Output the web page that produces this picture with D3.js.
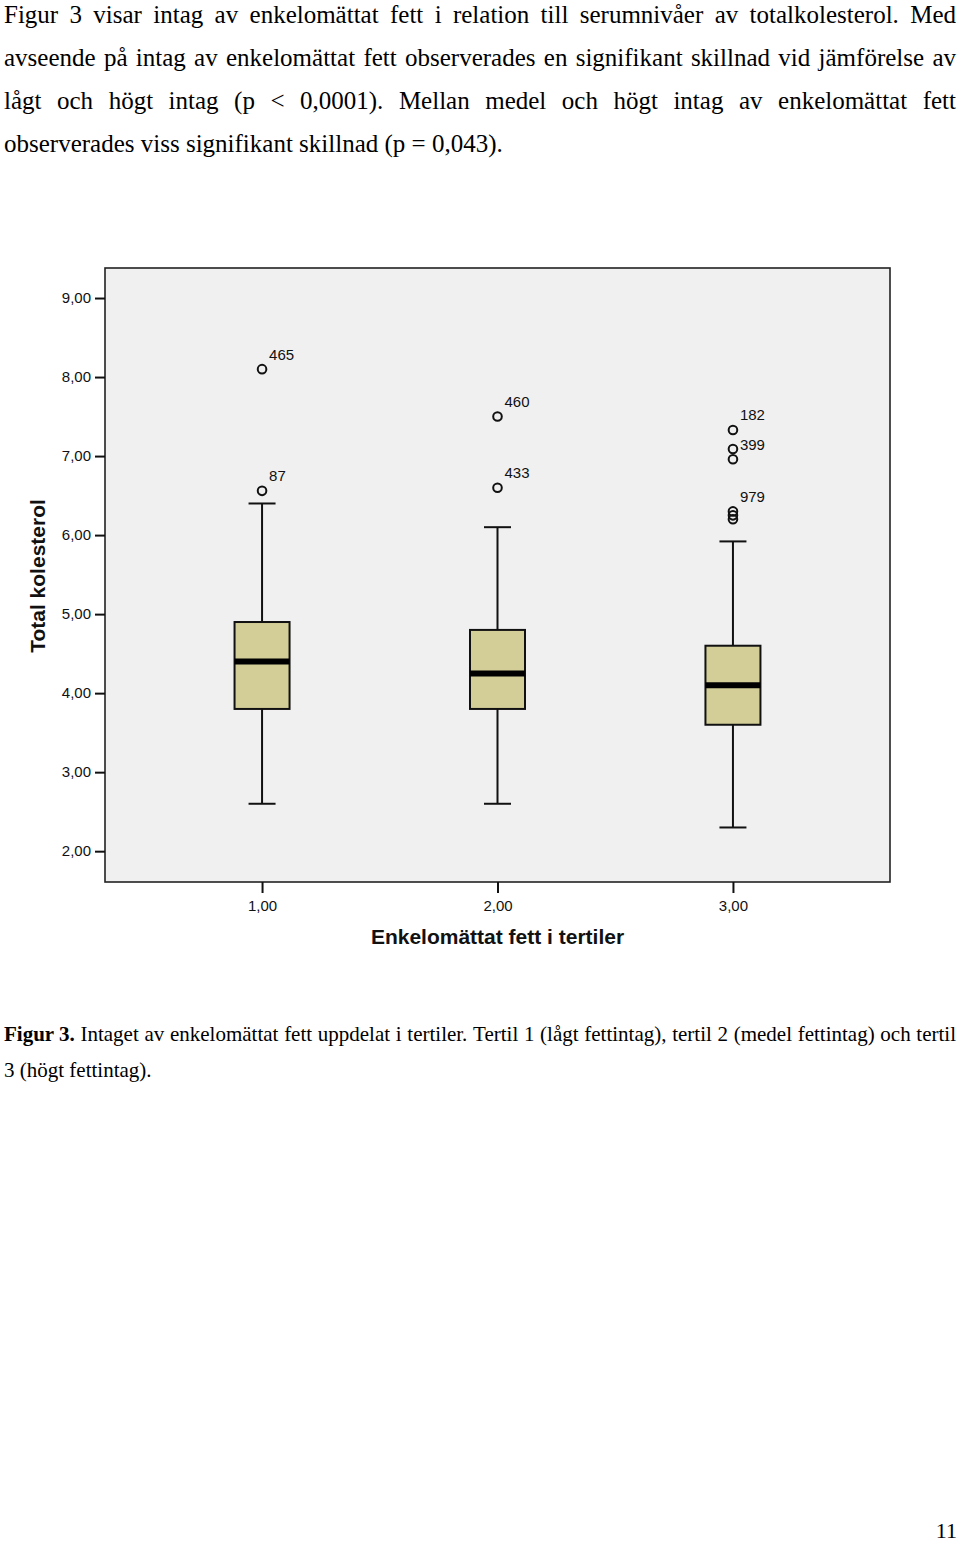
<!DOCTYPE html>
<html>
<head>
<meta charset="utf-8">
<script src="https://cdn.jsdelivr.net/npm/d3@7"></script>
<style>
  html, body { margin: 0; padding: 0; background: #fff; }
  svg { display: block; }
</style>
</head>
<body>
<svg id="page" width="960" height="1543"></svg>
<script>
// ---------- data ----------
const categories = ["1,00", "2,00", "3,00"];
const whiskerLow  = [2.60, 2.60, 2.30];
const q1          = [3.80, 3.80, 3.60];
const median      = [4.40, 4.25, 4.10];
const q3          = [4.90, 4.80, 4.60];
const whiskerHigh = [6.40, 6.10, 5.92];

const outlierGroup = [0, 0, 1, 1, 2, 2, 2, 2, 2, 2];
const outlierValue = [6.56, 8.10, 6.60, 7.50, 7.33, 7.09, 6.96, 6.30, 6.25, 6.20];
const outlierLabel = ["87", "465", "433", "460", "182", "", "399", "979", "", ""];

const yTicks = [2, 3, 4, 5, 6, 7, 8, 9];
const yTitle = "Total kolesterol";
const xTitle = "Enkelomättat fett i tertiler";

const bodyLines = [
  "Figur 3 visar intag av enkelomättat fett i relation till serumnivåer av totalkolesterol. Med",
  "avseende på intag av enkelomättat fett observerades en signifikant skillnad vid jämförelse av",
  "lågt och högt intag (p < 0,0001). Mellan medel och högt intag av enkelomättat fett",
  "observerades viss signifikant skillnad (p = 0,043)."
];
const captionBold = "Figur 3.";
const captionLines = [
  " Intaget av enkelomättat fett uppdelat i tertiler. Tertil 1 (lågt fettintag), tertil 2 (medel fettintag) och tertil",
  "3 (högt fettintag)."
];
const pageNumber = "11";

// ---------- layout ----------
const svg = d3.select("#page");
const frame = { left: 105, top: 268, right: 890, bottom: 882 };
const serif = "'Liberation Serif', 'Times New Roman', serif";
const sans = "'Liberation Sans', Arial, sans-serif";

const x = d3.scalePoint().domain(categories).range([frame.left, frame.right]).padding(0.667);
const y = d3.scaleLinear().domain([1.61, 9.38]).range([frame.bottom, frame.top]);

// justified text helper
function textLine(g, str, x0, baseline, width, size, justify, boldPrefix) {
  if (!justify) {
    const t = g.append("text").attr("y", baseline).attr("x", x0).attr("font-family", serif)
      .attr("font-size", size).attr("fill", "#000");
    if (boldPrefix) t.append("tspan").attr("font-weight", "bold").text(boldPrefix);
    t.append("tspan").text(str);
    return;
  }
  const words = [];
  if (boldPrefix) words.push({ w: boldPrefix, bold: true });
  str.trim().split(/ +/).forEach(w => words.push({ w, bold: false }));
  const nodes = words.map(o => g.append("text").attr("y", baseline).attr("font-family", serif)
    .attr("font-size", size).attr("font-weight", o.bold ? "bold" : "normal").attr("fill", "#000").text(o.w));
  const widths = nodes.map(n => n.node().getComputedTextLength());
  const total = d3.sum(widths);
  const gap = (width - total) / (words.length - 1);
  let cx = x0;
  nodes.forEach((n, i) => { n.attr("x", cx); cx += widths[i] + gap; });
}

const body = svg.append("g");
bodyLines.forEach((l, i) => textLine(body, l, 4, 22.5 + i * 43.3, 952, 25, i < bodyLines.length - 1));

// ---------- chart ----------
const chart = svg.append("g");
chart.append("rect")
  .attr("x", frame.left).attr("y", frame.top)
  .attr("width", frame.right - frame.left).attr("height", frame.bottom - frame.top)
  .attr("fill", "#f0f0f0").attr("stroke", "#222").attr("stroke-width", 1.6);

// y axis
const yAxis = chart.append("g").attr("transform", `translate(${frame.left},0)`)
  .call(d3.axisLeft(y).tickValues(yTicks).tickSize(10).tickPadding(4)
    .tickFormat(d => d3.format(".2f")(d).replace(".", ",")));
yAxis.select(".domain").remove();
yAxis.selectAll("line").attr("stroke", "#111").attr("stroke-width", 2);
yAxis.selectAll("text").attr("font-family", sans).attr("font-size", 15).attr("fill", "#111");

// x axis
const xAxis = chart.append("g").attr("transform", `translate(0,${frame.bottom})`)
  .call(d3.axisBottom(x).tickSize(11).tickPadding(7));
xAxis.select(".domain").remove();
xAxis.selectAll("line").attr("stroke", "#111").attr("stroke-width", 2);
xAxis.selectAll("text").attr("font-family", sans).attr("font-size", 15).attr("fill", "#111");

// titles
chart.append("text").attr("x", (frame.left + frame.right) / 2).attr("y", 944)
  .attr("text-anchor", "middle").attr("font-family", sans).attr("font-weight", "bold")
  .attr("font-size", 21).attr("fill", "#111").text(xTitle);
chart.append("text").attr("transform", `translate(45,${576}) rotate(-90)`)
  .attr("text-anchor", "middle").attr("font-family", sans).attr("font-weight", "bold")
  .attr("font-size", 21).attr("fill", "#111").text(yTitle);

// boxes
const boxW = 55, capW = 27;
categories.forEach((c, i) => {
  const cx = x(c);
  const g = chart.append("g");
  g.append("line").attr("x1", cx).attr("x2", cx).attr("y1", y(q3[i])).attr("y2", y(whiskerHigh[i]))
    .attr("stroke", "#111").attr("stroke-width", 2);
  g.append("line").attr("x1", cx).attr("x2", cx).attr("y1", y(q1[i])).attr("y2", y(whiskerLow[i]))
    .attr("stroke", "#111").attr("stroke-width", 2);
  [whiskerHigh[i], whiskerLow[i]].forEach(v => g.append("line")
    .attr("x1", cx - capW / 2).attr("x2", cx + capW / 2).attr("y1", y(v)).attr("y2", y(v))
    .attr("stroke", "#111").attr("stroke-width", 2));
  g.append("rect").attr("x", cx - boxW / 2).attr("y", y(q3[i]))
    .attr("width", boxW).attr("height", y(q1[i]) - y(q3[i]))
    .attr("fill", "#d3ce97").attr("stroke", "#111").attr("stroke-width", 2);
  g.append("line").attr("x1", cx - boxW / 2).attr("x2", cx + boxW / 2)
    .attr("y1", y(median[i])).attr("y2", y(median[i]))
    .attr("stroke", "#000").attr("stroke-width", 6);
});

// outliers
outlierValue.forEach((v, i) => {
  const cx = x(categories[outlierGroup[i]]);
  chart.append("circle").attr("cx", cx).attr("cy", y(v)).attr("r", 4.3)
    .attr("fill", "none").attr("stroke", "#111").attr("stroke-width", 2);
  if (outlierLabel[i]) {
    chart.append("text").attr("x", cx + 7).attr("y", y(v) - 9.5)
      .attr("font-family", sans).attr("font-size", 15).attr("fill", "#111").text(outlierLabel[i]);
  }
});

// caption
const cap = svg.append("g");
textLine(cap, captionLines[0], 4, 1041, 952, 21, true, captionBold);
textLine(cap, captionLines[1], 4, 1077, 952, 21, false);

// page number
svg.append("text").attr("x", 957).attr("y", 1538).attr("text-anchor", "end")
  .attr("font-family", serif).attr("font-size", 22).attr("fill", "#000").text(pageNumber);
</script>
</body>
</html>
